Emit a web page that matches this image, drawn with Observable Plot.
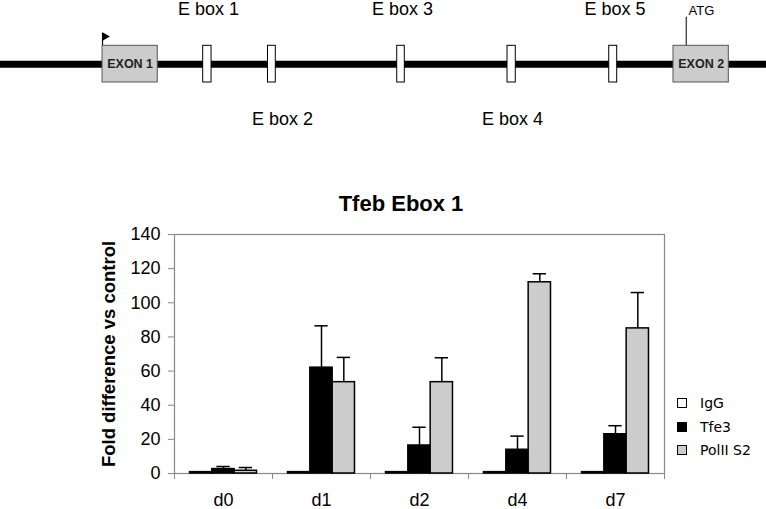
<!DOCTYPE html>
<html>
<head>
<meta charset="utf-8">
<script src="https://cdn.jsdelivr.net/npm/d3@7"></script>
<script src="https://cdn.jsdelivr.net/npm/@observablehq/plot@0.6"></script>
<style>
  html, body { margin: 0; padding: 0; background: #fff; }
  #root { position: relative; width: 766px; height: 509px; overflow: hidden; font-family: "Liberation Sans", Arial, sans-serif; }
  #diagram { position: absolute; left: 0; top: 0; }
  #chart { position: absolute; left: 0; top: 180px; }
  #title { position: absolute; left: 301px; top: 193px; width: 200px; text-align: center; font: bold 22px/22px "Liberation Sans", Arial, sans-serif; color: #000; }
  #legend { position: absolute; left: 677px; top: 391.6px; font-family: "DejaVu Sans", sans-serif; font-size: 14px; color: #000; }
  .lrow { display: flex; align-items: center; height: 23.3px; }
  .lsw { width: 8px; height: 8px; border: 1px solid #000; margin-right: 13px; }
  g[aria-label="y-axis label"] text { font-weight: bold; font-size: 18.5px; }
</style>
</head>
<body>
<div id="root">
  <div id="diagram"></div>
  <div id="title">Tfeb Ebox 1</div>
  <div id="chart"></div>
  <div id="legend"></div>
</div>
<script>
// ---------- Gene diagram data (positions as % of the drawn gene length) ----------
const exonLabels = ["EXON 1", "EXON 2"];
const exonStart = [13.32, 87.86];
const exonEnd = [20.53, 95.08];
const eboxLabels = ["E box 1", "E box 2", "E box 3", "E box 4", "E box 5"];
const eboxStart = [26.46, 34.92, 51.79, 66.19, 79.47];
const eboxEnd = [27.55, 35.94, 52.78, 67.27, 80.51];
const eboxLabelPos = [27.15, 36.81, 52.48, 66.84, 80.22];
const eboxLabelRow = ["above", "below", "above", "below", "above"];
const tssPos = [13.32];
const atgPos = [89.52];

// ---------- Bar chart data ----------
const days = ["d0", "d1", "d2", "d4", "d7"];
const series = ["IgG", "Tfe3", "PolII S2"];
const seriesColors = ["#ffffff", "#000000", "#cccccc"];
const iggValues = [0.8, 0.8, 0.8, 0.8, 0.8];
const tfe3Values = [2.6, 62, 16.4, 13.9, 23];
const tfe3Errors = [1.5, 24.5, 10.7, 8, 5];
const pol2Values = [1.6, 53.5, 53.5, 112, 85];
const pol2Errors = [1.9, 14.5, 14.3, 5, 21];
const yTicks = [0, 20, 40, 60, 80, 100, 120, 140];

const FONT = '"Liberation Sans", Arial, sans-serif';

// ---------- Diagram ----------
const exons = exonLabels.map((label, i) => ({label, start: exonStart[i], end: exonEnd[i], mid: (exonStart[i] + exonEnd[i]) / 2}));
const eboxes = eboxLabels.map((label, i) => ({label, start: eboxStart[i], end: eboxEnd[i], labelPos: eboxLabelPos[i], row: eboxLabelRow[i]}));

const diagram = Plot.plot({
  width: 766, height: 130,
  marginTop: 0, marginBottom: 0, marginLeft: 0, marginRight: 0,
  style: {fontFamily: FONT, background: "transparent", overflow: "visible"},
  x: {domain: [0, 100], axis: null},
  y: {domain: [-3.616, 3.469], axis: null},
  marks: [
    Plot.ruleY([0], {stroke: "#000", strokeWidth: 7}),
    Plot.ruleX(atgPos, {x: d => d, y1: 1, y2: 2.56, stroke: "#000", strokeWidth: 1}),
    Plot.ruleX(tssPos, {x: d => d, y1: 1, y2: 1.69, stroke: "#000", strokeWidth: 1.2}),
    Plot.dot(tssPos, {x: d => d, y: 1.51, symbol: "triangle", rotate: 90, r: 3, fill: "#000", stroke: null, dx: 2.7}),
    Plot.rect(exons, {x1: "start", x2: "end", y1: -1, y2: 1, fill: "#cccccc", stroke: "#555", strokeWidth: 1}),
    Plot.text(exons, {x: "mid", y: 0, text: "label", fontSize: 12.5, fontWeight: "bold", fill: "#222"}),
    Plot.rect(eboxes, {x1: "start", x2: "end", y1: -1, y2: 1, fill: "#fff", stroke: "#000", strokeWidth: 1}),
    Plot.text(eboxes.filter(d => d.row === "above"), {x: "labelPos", text: "label", frameAnchor: "top", lineAnchor: "top", dy: 1.4, fontSize: 18, fill: "#000"}),
    Plot.text(eboxes.filter(d => d.row === "below"), {x: "labelPos", text: "label", frameAnchor: "bottom", lineAnchor: "bottom", dy: -6, fontSize: 18, fill: "#000"}),
    Plot.text(atgPos, {x: d => d, text: () => "ATG", frameAnchor: "top", lineAnchor: "top", textAnchor: "start", dx: 2.3, dy: 4.8, fontSize: 13, fill: "#000"})
  ]
});
document.getElementById("diagram").appendChild(diagram);

// ---------- Chart ----------
const rows = [];
days.forEach((day, i) => {
  rows.push({day, series: "IgG", value: iggValues[i], err: 0});
  rows.push({day, series: "Tfe3", value: tfe3Values[i], err: tfe3Errors[i]});
  rows.push({day, series: "PolII S2", value: pol2Values[i], err: pol2Errors[i]});
});
const errRows = rows.filter(d => d.err > 0);

const chart = Plot.plot({
  width: 766, height: 329,
  marginTop: 54, marginBottom: 36, marginLeft: 174, marginRight: 102,
  style: {fontFamily: FONT, background: "transparent", overflow: "visible", color: "#000"},
  fx: {domain: days, paddingInner: 0, paddingOuter: 0, round: false, label: null},
  x: {domain: series, paddingInner: 0, paddingOuter: 0.695, round: false, axis: null},
  y: {domain: [0, 140], label: null},
  color: {domain: series, range: seriesColors},
  marks: [
    Plot.frame({anchor: "left", stroke: "#888", insetTop: 239, insetBottom: -5}),
    Plot.frame({facet: "super", anchor: "right", stroke: "#888", insetTop: 239, insetBottom: -5}),
    Plot.frame({facet: "super", stroke: "#888", strokeWidth: 1.2}),
    Plot.ruleX(errRows, {fx: "day", x: "series", y1: "value", y2: d => d.value + d.err, stroke: "#000", strokeWidth: 1.5}),
    Plot.tickY(errRows, {fx: "day", x: "series", y: d => d.value + d.err, stroke: "#000", strokeWidth: 1.5, insetLeft: 4.5, insetRight: 4.5}),
    Plot.barY(rows, {fx: "day", x: "series", y: "value", fill: "series", stroke: "#000", strokeWidth: 1.5}),
    Plot.axisY({ticks: yTicks, tickSize: 6, tickPadding: 8, fontSize: 18, stroke: "#888", fill: "#000",
      label: "Fold difference vs control", labelAnchor: "center", labelOffset: 73, labelArrow: false}),
    Plot.axisFx({anchor: "bottom", tickSize: 0, tickPadding: 20, fontSize: 18, fill: "#000", label: null})
  ]
});
document.getElementById("chart").appendChild(chart);

// ---------- Legend ----------
const legend = document.getElementById("legend");
series.forEach((s, i) => {
  const row = document.createElement("div");
  row.className = "lrow";
  const sw = document.createElement("div");
  sw.className = "lsw";
  sw.style.background = seriesColors[i];
  const tx = document.createElement("span");
  tx.textContent = s;
  row.appendChild(sw);
  row.appendChild(tx);
  legend.appendChild(row);
});
</script>
</body>
</html>
